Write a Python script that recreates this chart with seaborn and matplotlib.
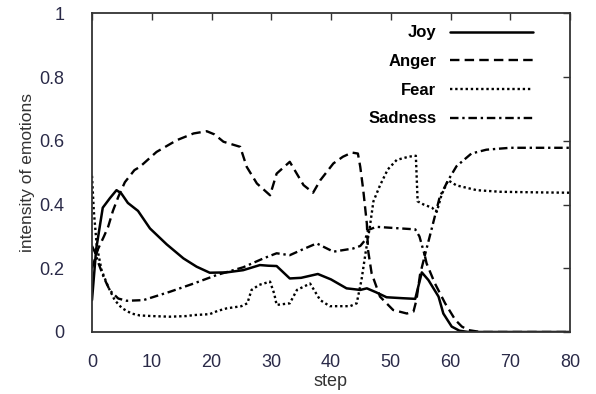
import matplotlib
matplotlib.use("Agg")
import matplotlib.pyplot as plt
import seaborn as sns
import pandas as pd

# ---- data ----
joy_x = [0, 0.7, 1.8, 3, 4.1, 4.9, 6, 7.7, 9.7, 12.5, 15.3, 17.5, 19.7, 22.5, 25.3, 28.1, 29.5, 30.9,
         33.1, 35, 37.8, 40, 42.6, 44.9, 46, 47.5, 49.3, 52, 54.1, 55.2, 56.3, 58, 58.8, 60.2, 61.5, 63, 70, 80]
joy_y = [0.10, 0.26, 0.39, 0.42, 0.445, 0.435, 0.405, 0.38, 0.325, 0.275, 0.231, 0.205, 0.186, 0.187,
         0.194, 0.21, 0.208, 0.207, 0.168, 0.170, 0.182, 0.165, 0.137, 0.132, 0.137, 0.125, 0.109, 0.106,
         0.104, 0.187, 0.163, 0.111, 0.058, 0.017, 0.004, 0.0, 0.0, 0.0]

anger_x = [0, 1, 2, 2.7, 3.5, 4.4, 5.5, 7.1, 8, 10.8, 14.2, 17, 19.2, 20.5, 22, 24.8, 25.9, 27.6, 29.8,
           30.9, 33.1, 35.4, 37, 38.2, 40.4, 42, 43.5, 44.5, 44.9, 45.4, 46, 46.2, 46.8, 48.2, 50.4, 52.7,
           53.8, 54.3, 54.9, 55.7, 56, 57.4, 59.1, 60.8, 61.9, 63, 65, 70, 80]
anger_y = [0.20, 0.26, 0.30, 0.33, 0.38, 0.424, 0.47, 0.508, 0.518, 0.565, 0.602, 0.623, 0.63, 0.62,
           0.597, 0.581, 0.518, 0.466, 0.429, 0.497, 0.534, 0.461, 0.437, 0.476, 0.529, 0.55, 0.563, 0.56,
           0.518, 0.445, 0.34, 0.257, 0.184, 0.111, 0.069, 0.058, 0.064, 0.10, 0.18, 0.24, 0.215, 0.152,
           0.09, 0.038, 0.017, 0.006, 0.0, 0.0, 0.0]

fear_x = [0, 0.3, 0.8, 1.6, 2.7, 3.8, 5, 6.6, 8, 10, 13, 15.8, 17, 19.7, 21, 22.5, 25, 26, 26.7, 28,
          29.8, 30.5, 30.9, 33.1, 34.3, 36.5, 38.2, 39.8, 43.2, 44.3, 45.1, 45.8, 46.5, 47.1, 48.2, 49.5,
          51, 53, 54.2, 54.5, 55.5, 56.9, 57.7, 58.5, 59.6, 61, 64.4, 68.3, 75, 80]
fear_y = [0.49, 0.38, 0.27, 0.194, 0.142, 0.10, 0.075, 0.058, 0.052, 0.05, 0.048, 0.050, 0.053, 0.056,
          0.066, 0.074, 0.081, 0.09, 0.132, 0.148, 0.158, 0.12, 0.085, 0.09, 0.132, 0.152, 0.10, 0.081,
          0.081, 0.09, 0.163, 0.25, 0.33, 0.41, 0.46, 0.51, 0.54, 0.55, 0.553, 0.41, 0.40, 0.39, 0.377,
          0.43, 0.476, 0.46, 0.445, 0.44, 0.438, 0.437]

sad_x = [0, 0.5, 1, 2, 3, 4.4, 5.8, 8.6, 13, 17, 20.9, 25.3, 28.7, 30.9, 33.1, 35, 37.6, 40.4, 43.7,
         44.9, 45.7, 46.2, 47.6, 50, 54.1, 54.8, 55.7, 56.8, 58.2, 59.6, 61, 63.5, 66, 70, 80]
sad_y = [0.27, 0.25, 0.22, 0.17, 0.13, 0.105, 0.098, 0.10, 0.126, 0.152, 0.179, 0.203, 0.231, 0.247,
         0.241, 0.257, 0.278, 0.252, 0.262, 0.27, 0.288, 0.32, 0.33, 0.327, 0.322, 0.30, 0.24, 0.32,
         0.424, 0.476, 0.52, 0.56, 0.572, 0.578, 0.578]

names = ["Joy", "Anger", "Fear", "Sadness"]
series = {"Joy": (joy_x, joy_y), "Anger": (anger_x, anger_y),
          "Fear": (fear_x, fear_y), "Sadness": (sad_x, sad_y)}

x_ticks = [0, 10, 20, 30, 40, 50, 60, 70, 80]
y_ticks = [0, 0.2, 0.4, 0.6, 0.8, 1]
y_tick_labels = ["0", "0.2", "0.4", "0.6", "0.8", "1"]

# ---- styles ----
styles = {
    "Joy": dict(linestyle="-", linewidth=1.8),
    "Anger": dict(linestyle=(0, (4.0, 2.2)), linewidth=1.7),
    "Fear": dict(linestyle=(0, (1.0, 1.2)), linewidth=1.7),
    "Sadness": dict(linestyle=(0, (3.6, 1.6, 1.0, 1.6)), linewidth=1.7),
}

sns.set_theme(style="white")
plt.rcParams["font.family"] = ["Liberation Sans", "DejaVu Sans"]

fig = plt.figure(figsize=(5.96, 3.94), dpi=100)
ax = fig.add_axes([92 / 596, 1 - 332 / 394, (570 - 92) / 596, (332 - 13.3) / 394])

for name in names:
    xs, ys = series[name]
    df = pd.DataFrame({"step": xs, "value": ys})
    sns.lineplot(data=df, x="step", y="value", ax=ax, color="black", label=name,
                 estimator=None, sort=False, **styles[name])

ax.set_xlim(0, 80)
ax.set_ylim(0, 1)
ax.set_xticks(x_ticks)
ax.set_xticklabels([str(t) for t in x_ticks])
ax.set_yticks(y_ticks)
ax.set_yticklabels(y_tick_labels)

lab_color = "#2a2a48"
ax.tick_params(axis="both", direction="in", length=5, width=1.0, color="#333333",
               labelsize=13, labelcolor=lab_color, top=True, right=True)
ax.tick_params(axis="x", pad=16)
ax.tick_params(axis="y", pad=20)

for sp in ax.spines.values():
    sp.set_visible(True)
    sp.set_color("#333333")
    sp.set_linewidth(1.3)

ax.set_xlabel("step", fontsize=13, color="#333333", labelpad=1)
ax.set_ylabel("intensity of emotions", fontsize=12.5, color="#333333", labelpad=3)
ax.grid(False)

leg = ax.legend(loc="upper right", bbox_to_anchor=(0.9226, 0.962), frameon=False,
                markerfirst=False, handlelength=5.0, handletextpad=0.8, labelspacing=0.82,
                borderaxespad=0, borderpad=0,
                prop={"weight": "bold", "size": 12, "family": "Liberation Sans"})
for t in leg.get_texts():
    t.set_color("black")

fig.savefig("out.png", dpi=100)
